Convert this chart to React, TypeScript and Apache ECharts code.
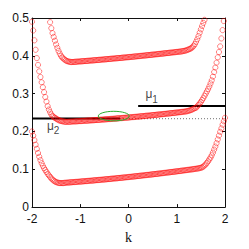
import React, { useEffect, useRef } from "react";
import * as echarts from "echarts";

const K_STEP = 0.025;

// lowest band, k = -2 ... 2
const bandLowStart = -2;
const bandLow = [
  0.200, 0.189, 0.177, 0.165, 0.154, 0.143, 0.133, 0.124, 0.116, 0.109, 0.103, 0.098, 0.093, 0.088, 0.084,
  0.080, 0.076, 0.073, 0.070, 0.068, 0.066, 0.065, 0.064, 0.0637, 0.0635, 0.0635, 0.0636, 0.0641, 0.0645,
  0.0647, 0.0650, 0.0652, 0.0655, 0.0657, 0.0660, 0.0662, 0.0665, 0.0667, 0.0670, 0.0672, 0.0675,
  0.0678, 0.0680, 0.0683, 0.0686, 0.0688, 0.0691, 0.0694, 0.0697, 0.0699, 0.0702, 0.0705, 0.0708, 0.0711,
  0.0714, 0.0717, 0.0719, 0.0722, 0.0725, 0.0728, 0.0731,
  0.0734, 0.0737, 0.0740, 0.0743, 0.0746, 0.0750, 0.0753, 0.0756, 0.0759, 0.0762, 0.0765, 0.0769, 0.0772,
  0.0775, 0.0778, 0.0782, 0.0785, 0.0788, 0.0792, 0.0795,
  0.0798, 0.0802, 0.0805, 0.0809, 0.0812, 0.0816, 0.0819, 0.0823, 0.0826, 0.0830, 0.0833, 0.0837, 0.0841,
  0.0844, 0.0848, 0.0851, 0.0855, 0.0859, 0.0863, 0.0866,
  0.0870, 0.0874, 0.0878, 0.0881, 0.0885, 0.0889, 0.0893, 0.0897, 0.0901, 0.0905, 0.0909, 0.0913, 0.0917,
  0.0921, 0.0925, 0.0929, 0.0933, 0.0937, 0.0941, 0.0945,
  0.0949, 0.0953, 0.0957, 0.0962, 0.0966, 0.0970, 0.0974, 0.0979,
  0.0983, 0.0987, 0.0992, 0.0996, 0.1000, 0.1005, 0.1010, 0.1015, 0.1020, 0.1025, 0.1032, 0.1040,
  0.105, 0.107, 0.110, 0.113, 0.117, 0.121, 0.126, 0.131, 0.137, 0.144,
  0.152, 0.160, 0.169, 0.179, 0.189, 0.199, 0.208, 0.218, 0.227, 0.236,
];

// middle band, k = -2 ... 1.975
const bandMidStart = -2;
const bandMid = [
  0.490, 0.467, 0.441, 0.416, 0.394, 0.376, 0.359, 0.344, 0.330, 0.317, 0.304, 0.291, 0.279, 0.267, 0.258,
  0.251, 0.245, 0.241, 0.238, 0.236, 0.234, 0.232, 0.230, 0.229, 0.228, 0.227, 0.2265, 0.226, 0.2255,
  0.2255, 0.2257, 0.2258, 0.2260, 0.2262, 0.2264, 0.2266, 0.2267, 0.2269, 0.2271, 0.2273, 0.2275,
  0.2277, 0.2279, 0.2281, 0.2283, 0.2285, 0.2287, 0.2289, 0.2291, 0.2293, 0.2295, 0.2298, 0.2300, 0.2302,
  0.2304, 0.2307, 0.2309, 0.2311, 0.2313, 0.2316, 0.2318,
  0.2321, 0.2323, 0.2325, 0.2328, 0.2330, 0.2333, 0.2335, 0.2338, 0.2340, 0.2343, 0.2346, 0.2348, 0.2351,
  0.2353, 0.2356, 0.2359, 0.2362, 0.2364, 0.2367, 0.2370,
  0.2373, 0.2376, 0.2379, 0.2381, 0.2384, 0.2387, 0.2390, 0.2393, 0.2396, 0.2399, 0.2402, 0.2405, 0.2408,
  0.2412, 0.2415, 0.2418, 0.2421, 0.2424, 0.2427, 0.2431,
  0.2434, 0.2437, 0.2441, 0.2444, 0.2447, 0.2451, 0.2454, 0.2457, 0.2461, 0.2464, 0.2468, 0.2471, 0.2475,
  0.2478, 0.2482, 0.2486, 0.2489, 0.2493, 0.2496, 0.2500,
  0.2504, 0.2507, 0.2511, 0.2515, 0.2519, 0.2523, 0.2528, 0.2533, 0.2540, 0.2548, 0.2558, 0.2570, 0.2585,
  0.2600, 0.2615, 0.2630,
  0.266, 0.270, 0.274, 0.278, 0.283, 0.288, 0.294, 0.300, 0.306, 0.312, 0.319, 0.327, 0.335, 0.345, 0.357,
  0.369, 0.382, 0.396, 0.410, 0.425, 0.446, 0.468, 0.492,
];

// top band, k = -1.625 ... 1.575
const bandTopStart = -1.625;
const bandTop = [
  0.489, 0.473, 0.460, 0.450, 0.440, 0.430, 0.421, 0.413, 0.406, 0.400, 0.396, 0.393, 0.390, 0.388, 0.386,
  0.3850, 0.3843, 0.3838, 0.3835,
  0.3837, 0.3840, 0.3842, 0.3845, 0.3847, 0.3850, 0.3852,
  0.3855, 0.3857, 0.3860, 0.3862, 0.3865, 0.3867, 0.3870, 0.3873, 0.3875, 0.3878, 0.3881, 0.3883, 0.3886,
  0.3889, 0.3892, 0.3894, 0.3897, 0.3900, 0.3903, 0.3906,
  0.3908, 0.3911, 0.3914, 0.3917, 0.3920, 0.3923, 0.3926, 0.3929, 0.3932, 0.3935, 0.3938, 0.3940, 0.3943,
  0.3946, 0.3950, 0.3953, 0.3956, 0.3959, 0.3962, 0.3965,
  0.3968, 0.3971, 0.3974, 0.3978, 0.3981, 0.3984, 0.3987, 0.3990, 0.3994, 0.3997, 0.4000, 0.4004, 0.4007,
  0.4010, 0.4014, 0.4017, 0.4020, 0.4024, 0.4027, 0.4031,
  0.4034, 0.4037, 0.4041, 0.4044, 0.4048, 0.4051, 0.4055, 0.4058, 0.4062, 0.4066, 0.4069, 0.4073, 0.4076,
  0.4080, 0.4084, 0.4087, 0.4091, 0.4095, 0.4098, 0.4102,
  0.4106, 0.4110, 0.4113, 0.4117, 0.4123, 0.4130, 0.4138, 0.4147, 0.4158, 0.4170, 0.4185, 0.4203, 0.4225,
  0.4265, 0.431, 0.437, 0.444, 0.452, 0.461, 0.470, 0.479, 0.487, 0.495,
];

// horizontal reference levels
const mu1Line = [[0.2, 0.267], [2, 0.267]];
const mu2Line = [[-2, 0.234], [-0.176, 0.234]];
const mu2Dotted = [[-0.176, 0.234], [2, 0.234]];

// green ellipse: centre k, centre value, half width (k), half height (value)
const ellipseData = [[-0.305, 0.2407, 0.321, 0.0126]];

// annotation labels: anchor k, anchor value, symbol, subscript
const muAnchors = [
  [0.425, 0.298],
  [-1.617, 0.2146],
];
const muSymbols = ["μ", "μ"];
const muSubscripts = ["1", "2"];

const xTickLabels = ["-2", "-1", "0", "1", "2"];

const toPoints = (start: number, ys: number[]) =>
  ys.map((y, i) => [Number((start + i * K_STEP).toFixed(3)), y]);

const SANS = "'Liberation Sans Narrow', 'Liberation Sans', Arial, sans-serif";

export default function App() {
  const ref = useRef<HTMLDivElement>(null);

  useEffect(() => {
    if (!ref.current) return;
    const chart = echarts.init(ref.current, undefined, { renderer: "svg" });

    const axisCommon = {
      type: "value" as const,
      axisLine: { show: true, onZero: false, lineStyle: { color: "#111", width: 1 } },
      axisTick: { show: true, inside: true, length: 3, lineStyle: { color: "#111", width: 1 } },
      splitLine: { show: false },
    };

    const circleSeries = (name: string, data: number[][]) => ({
      name,
      type: "scatter",
      data,
      symbol: "circle",
      symbolSize: 5.2,
      itemStyle: { color: "rgba(0,0,0,0)", borderColor: "#ff0000", borderWidth: 0.6 },
      z: 3,
      silent: true,
    });

    chart.setOption({
      animation: false,
      grid: { left: 32, right: 24, top: 18, bottom: 33, containLabel: false },
      xAxis: [
        {
          ...axisCommon,
          min: -2,
          max: 2,
          interval: 1,
          position: "bottom",
          axisLabel: {
            margin: 6,
            fontSize: 12,
            color: "#111",
            fontFamily: SANS,
            formatter: (v: number) => xTickLabels[Math.round(v + 2)] ?? String(v),
          },
          name: "k",
          nameLocation: "middle",
          nameGap: 20,
          nameTextStyle: { fontSize: 14, color: "#111", fontFamily: "'Liberation Serif', serif" },
        },
        {
          ...axisCommon,
          min: -2,
          max: 2,
          interval: 1,
          position: "top",
          axisLabel: { show: false },
        },
      ],
      yAxis: [
        {
          ...axisCommon,
          min: 0,
          max: 0.5,
          interval: 0.1,
          position: "left",
          axisLabel: { margin: 3, fontSize: 12, color: "#111", fontFamily: SANS },
        },
        {
          ...axisCommon,
          min: 0,
          max: 0.5,
          interval: 0.1,
          position: "right",
          axisLabel: { show: false },
        },
      ],
      series: [
        {
          type: "line",
          data: mu2Dotted,
          symbol: "none",
          lineStyle: { color: "#8c8c8c", width: 1.2, type: [1, 2] },
          z: 1,
          silent: true,
        },
        {
          type: "line",
          data: mu2Line,
          symbol: "none",
          lineStyle: { color: "#000", width: 2 },
          z: 2,
          silent: true,
        },
        {
          type: "line",
          data: mu1Line,
          symbol: "none",
          lineStyle: { color: "#000", width: 2 },
          z: 2,
          silent: true,
        },
        circleSeries("low", toPoints(bandLowStart, bandLow)),
        circleSeries("mid", toPoints(bandMidStart, bandMid)),
        circleSeries("top", toPoints(bandTopStart, bandTop)),
        {
          type: "custom",
          data: ellipseData,
          z: 4,
          silent: true,
          renderItem: (_params: any, api: any) => {
            const c = api.coord([api.value(0), api.value(1)]);
            const s = api.size([api.value(2), api.value(3)]);
            return {
              type: "ellipse",
              shape: { cx: c[0], cy: c[1], rx: s[0], ry: s[1] },
              style: { fill: "none", stroke: "#2fae2f", lineWidth: 1 },
            };
          },
        },
        {
          type: "scatter",
          data: muAnchors.map((a, i) => ({ value: a, txt: muSymbols[i] })),
          symbolSize: 0,
          silent: true,
          z: 5,
          label: {
            show: true,
            position: "inside",
            formatter: (p: any) => p.data.txt,
            fontSize: 12,
            color: "#111",
            fontFamily: SANS,
          },
        },
        {
          type: "scatter",
          data: muAnchors.map((a, i) => ({ value: a, txt: muSubscripts[i] })),
          symbolSize: 0,
          silent: true,
          z: 5,
          label: {
            show: true,
            position: "inside",
            offset: [6, 5],
            formatter: (p: any) => p.data.txt,
            fontSize: 10,
            color: "#111",
            fontFamily: SANS,
          },
        },
      ],
    });

    return () => chart.dispose();
  }, []);

  return (
    <div
      ref={ref}
      style={{ position: "fixed", left: 0, top: 0, width: 249, height: 249, background: "#fff" }}
    />
  );
}
